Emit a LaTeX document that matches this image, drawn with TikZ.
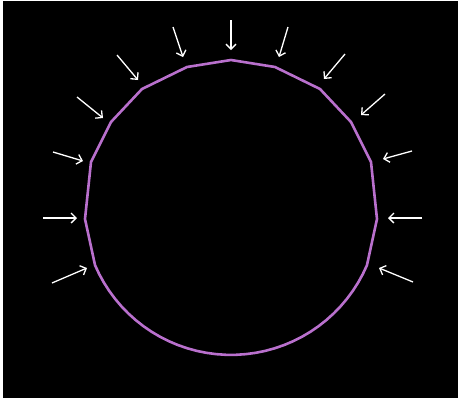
\documentclass[tikz,border=0pt]{standalone}
\usetikzlibrary{arrows.meta}
\definecolor{ringcol}{RGB}{185,112,205}
\begin{document}
\begin{tikzpicture}[x=1pt,y=-1pt,
  ring/.style={draw=ringcol,line width=2.6pt,line join=round},
  push/.style={draw=white,line width=1.3pt,-{Straight Barb[length=5pt,width=10pt]}}]
\useasboundingbox (0,0) rectangle (461,402);
\fill[white] (0,0) rectangle (461,402);
\fill[black] (3,1) rectangle (458,398);
\draw[ring] (231,60) -- (275,67) -- (320,89) -- (351,122) -- (371,162) -- (377,219) -- (367,265)
  -- plot[domain=113.1:246.9,samples=36] ({231+147.9*sin(\x)},{207-147.9*cos(\x)})
  -- (95,265) -- (85,219) -- (91,162) -- (111,122) -- (142,89) -- (187,67) -- cycle;
\foreach \i/\sx/\sy/\tx/\ty in {a/231/20/231/50, b/173/27/183/57, c/288/27/279/57,
  d/117/55/138/80, e/345/54/324/79, f/77/97/103/118, g/385/94/361/115,
  h/53/152/83/161, k/412/151/383/159, l/43/218/77/218, m/422/218/388/218,
  n/52/283/87/268, o/413/282/379/268} {
  \coordinate (s\i) at (\sx,\sy);
  \coordinate (t\i) at (\tx,\ty);
  \draw[push] (s\i) -- (t\i);
}
\end{tikzpicture}
\end{document}
